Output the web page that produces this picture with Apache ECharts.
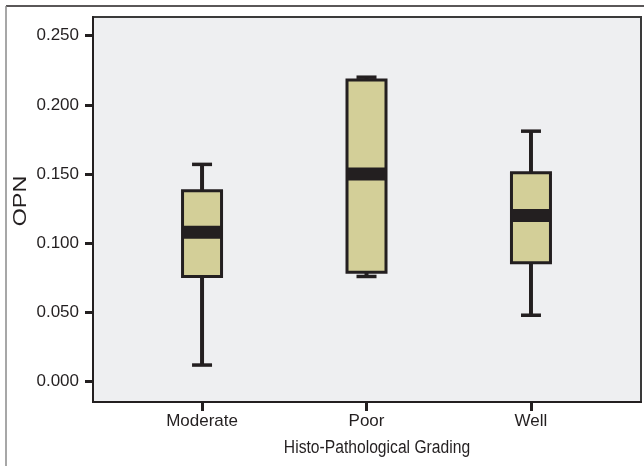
<!DOCTYPE html>
<html><head><meta charset="utf-8">
<script src="https://cdn.jsdelivr.net/npm/echarts@6/dist/echarts.min.js"></script>
<style>html,body{margin:0;padding:0;background:#fff}#c{width:644px;height:466px}</style>
</head><body><div id="c"></div>
<script>
const categories = ['Moderate', 'Poor', 'Well'];
// [lower whisker, Q1, median, Q3, upper whisker]
const lowerWhisker = [0.012, 0.076, 0.048];
const q1 = [0.076, 0.079, 0.086];
const medians = [0.108, 0.150, 0.120];
const q3 = [0.138, 0.218, 0.151];
const upperWhisker = [0.157, 0.220, 0.181];
const yTicks = [0, 0.05, 0.10, 0.15, 0.20, 0.25];

const FONT = '"Liberation Sans Narrow", "Arial Narrow", "Liberation Sans", sans-serif';
const DARK = '#231f20';
const data = categories.map((c, i) => [i, lowerWhisker[i], q1[i], medians[i], q3[i], upperWhisker[i]]);

const chart = echarts.init(document.getElementById('c'), null, {renderer: 'canvas'});
chart.setOption({
  animation: false,
  backgroundColor: '#ffffff',
  grid: {left: 93, right: 3, top: 17, bottom: 64, show: true, backgroundColor: '#eeeff1', borderColor: '#3a3a3a', borderWidth: 2},
  xAxis: {
    type: 'value', min: -0.663, max: 2.669,
    splitLine: {show: false},
    axisLine: {show: true, onZero: false, lineStyle: {color: DARK, width: 2}},
    axisTick: {show: true, length: 9, lineStyle: {color: DARK, width: 3}, customValues: [0, 1, 2]},
    axisLabel: {customValues: [0, 1, 2], formatter: v => categories[Math.round(v)] || '', fontFamily: FONT, fontSize: 17, color: '#231f20', margin: 11}
  },
  yAxis: {
    type: 'value', min: -0.0147, max: 0.2635,
    splitLine: {show: false},
    axisLine: {show: true, onZero: false, lineStyle: {color: DARK, width: 2}},
    axisTick: {show: true, length: 8, lineStyle: {color: DARK, width: 3}, customValues: yTicks},
    axisLabel: {customValues: yTicks, formatter: v => v.toFixed(3), fontFamily: FONT, fontSize: 17, color: '#231f20', margin: 14}
  },
  graphic: [
    {type: 'line', shape: {x1: 6, y1: 6, x2: 644, y2: 6}, style: {stroke: '#231f20', lineWidth: 1.5}, z: 100},
    {type: 'line', shape: {x1: 6, y1: 6, x2: 6, y2: 466}, style: {stroke: '#8a8a8a', lineWidth: 1.5}, z: 100},
    {type: 'text', x: 21, y: 201, rotation: Math.PI / 2, scaleX: 1.3,
      style: {text: 'OPN', font: '18px "Liberation Sans", Arial, sans-serif', fill: '#231f20', textAlign: 'center', textVerticalAlign: 'middle'}, z: 100},
    {type: 'text', x: 377, y: 448, scaleX: 0.87,
      style: {text: 'Histo-Pathological Grading', font: '18px ' + FONT, fill: '#231f20', textAlign: 'center', textVerticalAlign: 'middle'}, z: 100}
  ],
  series: [{
    type: 'custom',
    data: data,
    encode: {x: 0, y: [1, 2, 3, 4, 5]},
    renderItem: function (params, api) {
      const x = api.value(0);
      const pLow = api.coord([x, api.value(1)]);
      const pQ1 = api.coord([x, api.value(2)]);
      const pMed = api.coord([x, api.value(3)]);
      const pQ3 = api.coord([x, api.value(4)]);
      const pHigh = api.coord([x, api.value(5)]);
      const cx = pLow[0];
      const boxW = 39, capW = 20, medH = 13;
      return {
        type: 'group',
        children: [
          {type: 'line', shape: {x1: cx, y1: pHigh[1], x2: cx, y2: pQ3[1]}, style: {stroke: DARK, lineWidth: 4}},
          {type: 'line', shape: {x1: cx, y1: pQ1[1], x2: cx, y2: pLow[1]}, style: {stroke: DARK, lineWidth: 4}},
          {type: 'line', shape: {x1: cx - capW / 2, y1: pHigh[1], x2: cx + capW / 2, y2: pHigh[1]}, style: {stroke: DARK, lineWidth: 3.5}},
          {type: 'line', shape: {x1: cx - capW / 2, y1: pLow[1], x2: cx + capW / 2, y2: pLow[1]}, style: {stroke: DARK, lineWidth: 3.5}},
          {type: 'rect', shape: {x: cx - boxW / 2, y: pQ3[1], width: boxW, height: pQ1[1] - pQ3[1]}, style: {fill: '#d3cf98', stroke: DARK, lineWidth: 3}},
          {type: 'rect', shape: {x: cx - boxW / 2, y: pMed[1] - medH / 2, width: boxW, height: medH}, style: {fill: DARK}}
        ]
      };
    }
  }]
});
</script></body></html>
